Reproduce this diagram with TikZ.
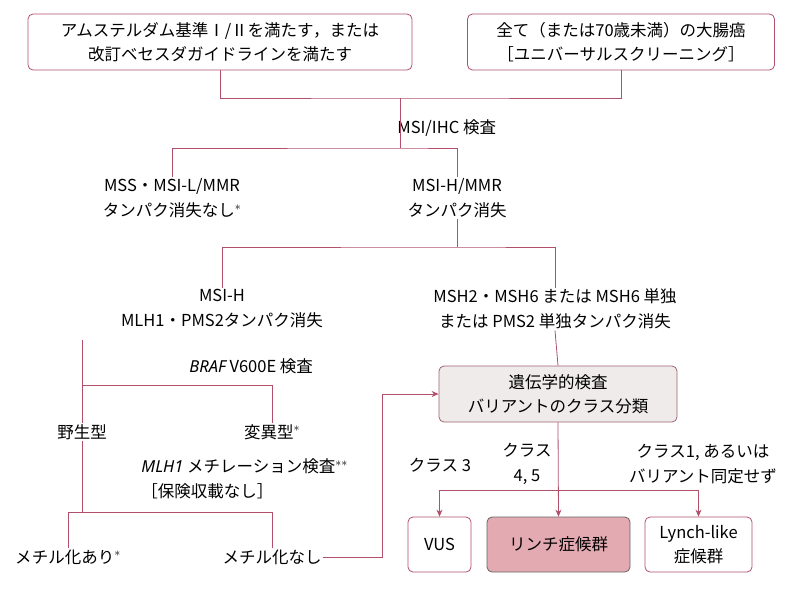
\documentclass[tikz,border=0pt]{standalone}
\usepackage{fontspec}
\setmainfont{Noto Sans CJK JP}
\newfontfamily\lat{Noto Sans}
\usetikzlibrary{arrows.meta}
\definecolor{ln}{HTML}{B0506A}
\definecolor{pk}{HTML}{E3AAB2}
\definecolor{gy}{HTML}{EEEBEA}
\begin{document}
\begin{tikzpicture}[x=1pt,y=-1pt,draw=ln,line width=0.8pt,
  box/.style={draw=ln,rounded corners=5pt,line width=0.8pt,align=center,inner sep=0pt,font=\fontsize{16.5}{24}\selectfont},
  txt/.style={align=center,font=\fontsize{16.5}{25}\selectfont,inner sep=1pt},
  ar/.style={-{Stealth[length=7pt,width=6pt]}}]
\useasboundingbox (0,0) rectangle (800,590);
\node[box,minimum width=384pt,minimum height=56pt] (b1) at (220,42) {アムステルダム基準Ⅰ/Ⅱを満たす，または\\改訂ベセスダガイドラインを満たす};
\node[box,minimum width=307pt,minimum height=56pt] (b2) at (621,42) {全て（または70歳未満）の大腸癌\\［ユニバーサルスクリーニング］};
\coordinate (j1) at (400,98);
\draw (b1.south) |- (j1) -| (b2.south);
\node[txt,anchor=west] (l1) at (396,128) {MSI/IHC 検査};
\coordinate (j2) at (400,148);
\node[txt] (mss) at (172,198) {MSS・MSI-L/MMR\\タンパク消失なし$^{*}$};
\node[txt] (msih) at (457,198) {MSI-H/MMR\\タンパク消失};
\draw (j1) -- (j2);
\draw (mss.north) |- (j2) -| (msih.north);
\coordinate (j3) at (457,247);
\node[txt] (mlh) at (222,309) {MSI-H\\MLH1・PMS2タンパク消失};
\node[txt] (msh) at (555,309) {MSH2・MSH6 または MSH6 単独\\または PMS2 単独タンパク消失};
\draw (msih.south) -- (j3);
\draw (mlh.north) |- (j3) -| (msh.north);
\node[txt,anchor=west] (l2) at (188,366) {{\lat\itshape BRAF} V600E 検査};
\coordinate (j4a) at (82,340);
\coordinate (j4) at (82,385);
\node[txt] (wild) at (82,432) {野生型};
\node[txt] (mut) at (272,432) {変異型$^{*}$};
\draw (j4a) -- (j4) -- (272,385) -- (mut.north);
\draw (j4) -- (wild.north);
\node[txt,anchor=west,align=left] (l3) at (140,479) {{\lat\itshape MLH1} メチレーション検査$^{**}$\\［保険収載なし］};
\coordinate (j5) at (82,512);
\node[txt] (ma) at (68,557) {メチル化あり$^{*}$};
\node[txt] (mn) at (272,557) {メチル化なし};
\draw (wild.south) -- (j5);
\draw (ma.north) |- (j5) -| (mn.north);
\node[box,fill=gy,draw=ln!60!gray,minimum width=238pt,minimum height=56pt] (gen) at (558,394) {遺伝学的検査\\バリアントのクラス分類};
\coordinate (k1) at (382,557);
\draw[ar] (mn.east) -- (k1) |- (gen.west);
\draw (msh.south) -- (gen.north);
\node[box,minimum width=63pt,minimum height=55pt] (vus) at (439.5,544.5) {VUS};
\node[box,fill=pk,draw=gray!80!black,minimum width=143pt,minimum height=55pt] (ly) at (558.5,544.5) {リンチ症候群};
\node[box,minimum width=107pt,minimum height=55pt] (ll) at (698.5,544.5) {Lynch-like\\症候群};
\coordinate (j6) at (558,490);
\draw[ar] (gen.south) -- (ly.north);
\draw[ar] (j6) -| (vus.north);
\draw[ar] (j6) -| (ll.north);
\node[txt] (c3) at (440,465) {クラス 3};
\node[txt] (c45) at (527,464) {クラス\\4, 5};
\node[txt] (c1) at (703,464) {クラス1, あるいは\\バリアント同定せず};
\end{tikzpicture}
\end{document}
